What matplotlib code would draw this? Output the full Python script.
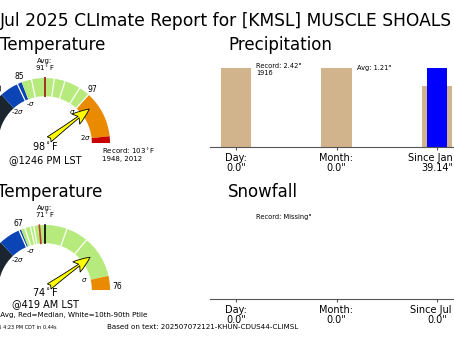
import numpy as np
import matplotlib
matplotlib.use("Agg")
import matplotlib.pyplot as plt
from matplotlib.patches import Wedge

W, H = 454, 341
fig = plt.figure(figsize=(W / 100, H / 100), dpi=100)

# ---------------- data ----------------
title = "Jul 2025 CLImate Report for [KMSL] MUSCLE SHOALS REGIONAL"

# High temperature gauge
hi_obs = 98
hi_time = "@1246 PM LST"
hi_avg = 91
hi_median = 91
hi_std = 5.6
hi_rec_lo = 67
hi_rec_hi = 103
hi_rec_years = "1948, 2012"
hi_ptiles = [84.3, 87.8, 92.1, 93.4, 95.3, 96.6]
hi_edge_labels = ["80", "85", "97"]

# Low temperature gauge
lo_obs = 74
lo_time = "@419 AM LST"
lo_avg = 71
lo_median = 70
lo_std = 4.3
lo_rec_lo = 53
lo_rec_hi = 76
lo_ptiles = [66.3, 67.4, 68.4, 69.0, 72.1, 73.2]
lo_edge_labels = ["62", "67"]

# Precipitation / snowfall
cats_precip = ["Day:", "Month:", "Since Jan 1:"]
precip_obs = [0.0, 0.0, 39.14]
precip_ref = [2.42, 1.21, 30.2]
cats_snow = ["Day:", "Month:", "Since Jul 1:"]
snow_obs = [0.0, 0.0, 0.0]

seg_colors = ["#1b252f", "#0b45b5", "#b6ea7c", "#e98a00", "#c80000"]


def px_axes(left, top, width, height):
    return fig.add_axes([left / W, 1 - (top + height) / H, width / W, height / H])


def val2ang(v, avg, lo, hi):
    if v >= avg:
        return 90.0 * (hi - v) / (hi - avg)
    return 90.0 + 90.0 * (avg - v) / (avg - lo)


def gauge(cx, cy, obs, avg, med, std, lo, hi, ptiles, time_txt, y_obs, y_time):
    R = 65.0
    ax = px_axes(cx - 1.4 * R, cy - 1.3 * R, 2.8 * R, 1.8 * R)
    ax.set_xlim(-1.4, 1.4)
    ax.set_ylim(-0.5, 1.3)
    ax.axis("off")
    bounds = [lo, avg - 2 * std, avg - std, avg + std, avg + 2 * std, hi]
    bounds = [min(max(b, lo), hi) for b in bounds]
    for i in range(5):
        a1 = val2ang(bounds[i + 1], avg, lo, hi)
        a2 = val2ang(bounds[i], avg, lo, hi)
        if a2 - a1 <= 0:
            continue
        ax.add_patch(Wedge((0, 0), 1.0, a1, a2, width=0.28,
                           facecolor=seg_colors[i], edgecolor="none"))
    for p in ptiles:
        a = np.radians(val2ang(p, avg, lo, hi))
        ax.plot([0.72 * np.cos(a), np.cos(a)], [0.72 * np.sin(a), np.sin(a)],
                color="white", lw=0.9)
    for v, c in ((avg, "black"), (med, "#c0392b")):
        a = np.radians(val2ang(v, avg, lo, hi))
        ax.plot([0.72 * np.cos(a), np.cos(a)], [0.72 * np.sin(a), np.sin(a)],
                color=c, lw=1.2)
    # sigma labels
    for k, lab in ((-2, r"-2$\sigma$"), (-1, r"-$\sigma$"), (1, r"$\sigma$"), (2, r"2$\sigma$")):
        v = avg + k * std
        if v < lo or v > hi:
            continue
        a = np.radians(val2ang(v, avg, lo, hi))
        ax.text(0.62 * np.cos(a), 0.62 * np.sin(a) + 0.02, lab, fontsize=5,
                ha="center", va="center")
    # arrow
    a = np.radians(val2ang(obs, avg, lo, hi))
    ax.annotate("", xy=(0.9 * np.cos(a), 0.9 * np.sin(a)), xytext=(0.03, 0.03),
                arrowprops=dict(arrowstyle="fancy,head_length=1.2,head_width=0.9,tail_width=0.45",
                                mutation_scale=10, fc="yellow", ec="black", lw=0.6))
    ax.text(0, y_obs, "%d$^\\circ$F" % obs, fontsize=7, ha="center", va="center")
    ax.text(0, y_time, time_txt, fontsize=7, ha="center", va="center")
    ax.text(0, 1.07, "Avg:\n%d$^\\circ$F" % avg, fontsize=5, ha="center", va="bottom",
            linespacing=1.0)
    return ax


# title and headings
fig.text(0 / W, 1 - 21 / H, title, fontsize=12.35, ha="left", va="center")
fig.text(0 / W, 1 - 45 / H, "Temperature", fontsize=12, ha="left", va="center")
fig.text(228 / W, 1 - 45 / H, "Precipitation", fontsize=12, ha="left", va="center")
fig.text(-3 / W, 1 - 192 / H, "Temperature", fontsize=12, ha="left", va="center")
fig.text(228 / W, 1 - 192 / H, "Snowfall", fontsize=12, ha="left", va="center")

# High gauge
axh = gauge(45, 143, hi_obs, hi_avg, hi_median, hi_std, hi_rec_lo, hi_rec_hi, hi_ptiles,
            hi_time, -0.05, -0.26)
for v, lab in zip([hi_avg - 2 * hi_std, hi_avg - hi_std, hi_avg + hi_std], hi_edge_labels):
    a = np.radians(val2ang(v, hi_avg, hi_rec_lo, hi_rec_hi))
    axh.text(1.1 * np.cos(a), 1.1 * np.sin(a), lab, fontsize=5.5, ha="center", va="center")
axh.text(0.88, -0.05, "Record: %d$^\\circ$F\n%s" % (hi_rec_hi, hi_rec_years), fontsize=5,
         ha="left", va="top", linespacing=1.1)

# Low gauge
axl = gauge(45, 290, lo_obs, lo_avg, lo_median, lo_std, lo_rec_lo, lo_rec_hi, lo_ptiles,
            lo_time, -0.03, -0.21)
for v, lab in zip([lo_avg - 2 * lo_std, lo_avg - lo_std], lo_edge_labels):
    a = np.radians(val2ang(v, lo_avg, lo_rec_lo, lo_rec_hi))
    axl.text(1.1 * np.cos(a), 1.1 * np.sin(a), lab, fontsize=5.5, ha="center", va="center")
axl.text(1.03, 0.05, "%d" % lo_rec_hi, fontsize=5.5, ha="left", va="center")


def bar_axes(top_base, cats, obs, ref):
    ax = px_axes(210, top_base - 87, 253, 87)
    ax.set_xlim(-0.26, 2.26)
    ax.set_ylim(0, 1.1)
    x = np.arange(len(cats))
    if ref is not None:
        scale = [max(o, r) for o, r in zip(obs, ref)]
        ax.bar(x, [r / s for r, s in zip(ref, scale)], width=0.3, color="#D2B48C")
        ax.bar(x, [o / s for o, s in zip(obs, scale)], width=0.2, color="blue")
    for sp in ("top", "right", "left"):
        ax.spines[sp].set_visible(False)
    ax.spines["bottom"].set_color("#555555")
    ax.set_yticks([])
    ax.set_xticks(x)
    ax.set_xticklabels(["%s\n%.1f\"" % (c, o) if o < 10 else "%s\n%.2f\"" % (c, o)
                        for c, o in zip(cats, obs)], fontsize=7, linespacing=1.05)
    ax.tick_params(axis="x", length=2, color="#555555", pad=2)
    return ax


axp = bar_axes(147, cats_precip, precip_obs, precip_ref)
axp.text(0.2, 1.06, "Record: %.2f\"\n1916" % precip_ref[0], fontsize=4.8, ha="left", va="top",
         linespacing=1.1)
axp.text(1.2, 1.04, "Avg: %.2f\"" % precip_ref[1], fontsize=4.8, ha="left", va="top")

axs = bar_axes(299, cats_snow, snow_obs, None)
axs.text(0.2, 1.07, "Record: Missing\"", fontsize=4.8, ha="left", va="top")

fig.text(147 / W, 1 - 314.5 / H, "Black=Avg, Red=Median, White=10th-90th Ptile",
         fontsize=5.1, ha="right", va="center")
fig.text(57 / W, 1 - 328 / H, "Generated 7 Jul 2025 4:23 PM CDT in 0.44s",
         fontsize=3.6, ha="right", va="center")
fig.text(107 / W, 1 - 327 / H, "Based on text: 202507072121-KHUN-CDUS44-CLIMSL",
         fontsize=5.1, ha="left", va="center")

fig.savefig("out.png", dpi=100)
